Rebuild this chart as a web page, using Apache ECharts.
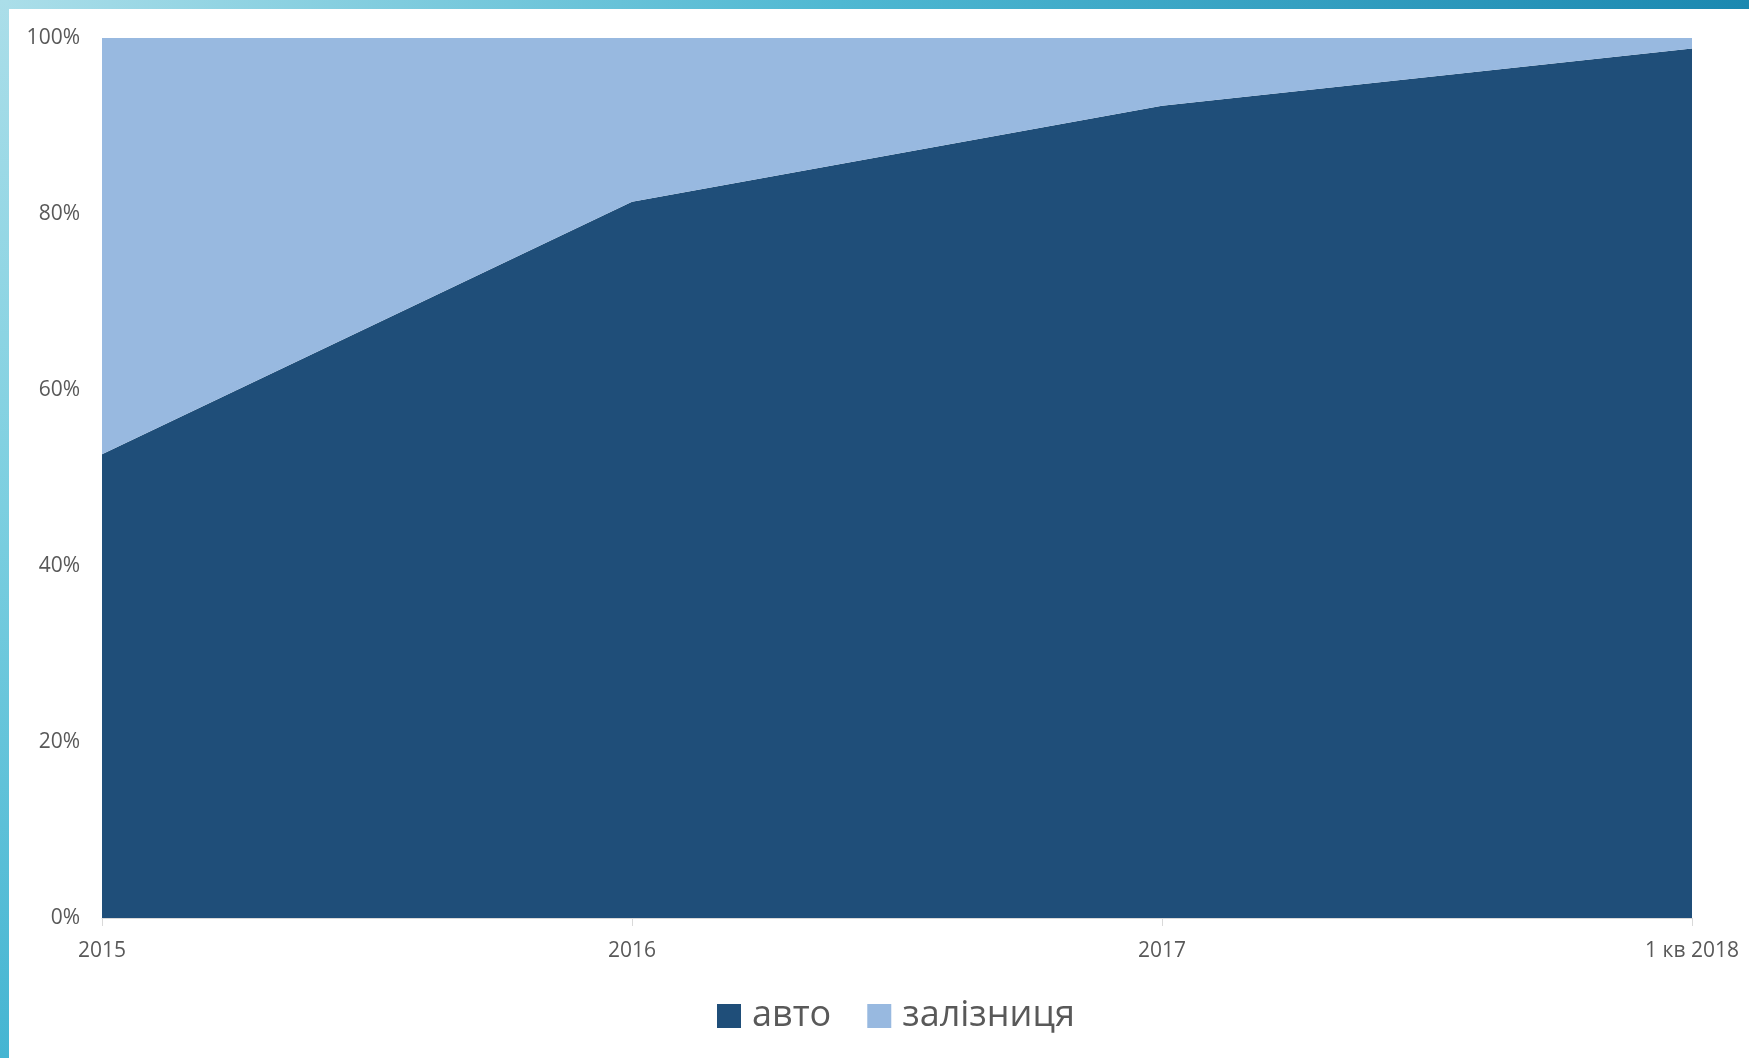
<!DOCTYPE html>
<html>
<head>
<meta charset="utf-8">
<script src="https://cdn.jsdelivr.net/npm/echarts@6/dist/echarts.min.js"></script>
<style>
html,body{margin:0;padding:0;width:1749px;height:1058px;background:#fff;overflow:hidden;}
#topbar{position:absolute;left:0;top:0;width:1749px;height:9px;background:linear-gradient(to right,#abdee9 0%,#4fb8d2 48%,#1b88b0 100%);z-index:2;}
#leftbar{position:absolute;left:0;top:0;width:9px;height:1058px;background:linear-gradient(to bottom,#abdee9 0%,#7ccfe0 48%,#45b5d2 100%);z-index:2;}
#chart{position:absolute;left:0;top:0;width:1749px;height:1058px;}
</style>
</head>
<body>
<div id="topbar"></div>
<div id="leftbar"></div>
<div id="chart"></div>
<script>
const categories = ['2015', '2016', '2017', '1 кв 2018'];
const seriesNames = ['авто', 'залізниця'];
const autoValues = [52.7, 81.4, 92.3, 98.8];
const railValues = [47.3, 18.6, 7.7, 1.2];
const yTicks = [0, 20, 40, 60, 80, 100];

const chart = echarts.init(document.getElementById('chart'));
const font = "'Open Sans', 'Noto Sans', sans-serif";
chart.setOption({
  animation: false,
  backgroundColor: 'transparent',
  grid: {left: 102, top: 38, right: 57, bottom: 140},
  legend: {
    data: seriesNames,
    bottom: 19,
    left: 712,
    itemWidth: 24,
    itemHeight: 24,
    itemGap: 36,
    icon: 'rect',
    textStyle: {fontFamily: font, fontSize: 36, color: '#595959', padding: [0, 0, 0, 6]}
  },
  xAxis: {
    type: 'category',
    data: categories,
    boundaryGap: false,
    axisLine: {lineStyle: {color: '#d9d9d9', width: 1}},
    axisTick: {show: true, length: 8, lineStyle: {color: '#d9d9d9'}},
    axisLabel: {fontFamily: font, fontSize: 21, color: '#595959', margin: 23}
  },
  yAxis: {
    type: 'value',
    min: yTicks[0],
    max: yTicks[yTicks.length - 1],
    interval: 20,
    axisLine: {show: false},
    axisTick: {show: false},
    splitLine: {lineStyle: {color: '#d9d9d9', width: 1}},
    axisLabel: {fontFamily: font, fontSize: 21, color: '#595959', margin: 22, padding: [4, 0, 0, 0], formatter: v => v + '%'}
  },
  series: [
    {
      name: seriesNames[0], type: 'line', stack: 'total', data: autoValues,
      symbol: 'none', lineStyle: {width: 0}, areaStyle: {color: '#1f4e79', opacity: 1},
      itemStyle: {color: '#1f4e79'}
    },
    {
      name: seriesNames[1], type: 'line', stack: 'total', data: railValues,
      symbol: 'none', lineStyle: {width: 0}, areaStyle: {color: '#98b9e0', opacity: 1},
      itemStyle: {color: '#98b9e0'}
    }
  ]
});
</script>
</body>
</html>
